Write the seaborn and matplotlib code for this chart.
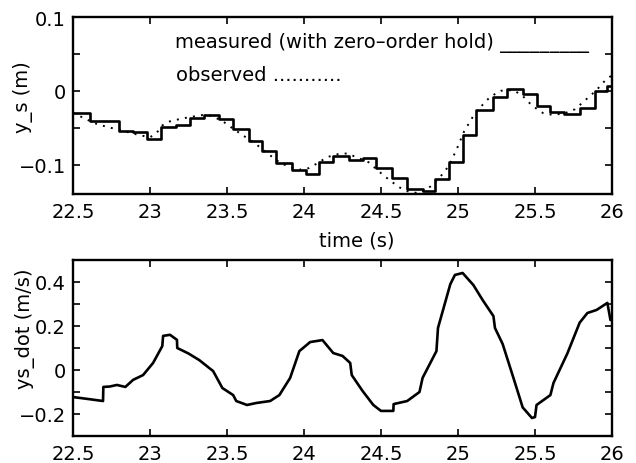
import numpy as np
import pandas as pd
import matplotlib
matplotlib.use("Agg")
import matplotlib.pyplot as plt
from matplotlib.ticker import FixedLocator
import seaborn as sns

# ---- data ----
# measured (zero-order hold): step start times and held values
meas_t = [22.50, 22.61, 22.70, 22.80, 22.89, 22.98, 23.07, 23.17, 23.26, 23.35,
          23.45, 23.54, 23.64, 23.73, 23.82, 23.92, 24.01, 24.10, 24.19, 24.29,
          24.38, 24.47, 24.57, 24.67, 24.77, 24.85, 24.94, 25.03, 25.12, 25.23,
          25.32, 25.42, 25.51, 25.60, 25.69, 25.79, 25.89, 25.97, 26.00]
meas_v = [-0.030, -0.041, -0.041, -0.054, -0.056, -0.066, -0.049, -0.046, -0.037, -0.033,
          -0.038, -0.052, -0.068, -0.082, -0.098, -0.108, -0.113, -0.096, -0.088, -0.094,
          -0.091, -0.105, -0.118, -0.133, -0.136, -0.120, -0.096, -0.060, -0.026, -0.008,
          0.003, -0.005, -0.020, -0.029, -0.032, -0.023, -0.001, 0.006, 0.006]

# observed
obs_t = [22.50, 22.56, 22.64, 22.72, 22.80, 22.87, 22.95, 23.00, 23.04, 23.08,
         23.12, 23.18, 23.25, 23.34, 23.40, 23.47, 23.53, 23.60, 23.68, 23.77,
         23.84, 23.90, 23.97, 24.03, 24.09, 24.15, 24.22, 24.28, 24.34, 24.42,
         24.49, 24.56, 24.62, 24.68, 24.75, 24.82, 24.88, 24.94, 24.99, 25.04,
         25.10, 25.16, 25.21, 25.28, 25.36, 25.42, 25.48, 25.55, 25.62, 25.70,
         25.76, 25.82, 25.90, 25.96, 26.00]
obs_v = [-0.030, -0.036, -0.044, -0.049, -0.053, -0.057, -0.061, -0.063, -0.058, -0.047,
         -0.042, -0.039, -0.036, -0.033, -0.034, -0.041, -0.050, -0.060, -0.071, -0.086,
         -0.097, -0.103, -0.107, -0.105, -0.098, -0.090, -0.086, -0.085, -0.090, -0.097,
         -0.110, -0.122, -0.131, -0.137, -0.139, -0.130, -0.118, -0.102, -0.080, -0.055,
         -0.034, -0.019, -0.008, 0.000, 0.001, -0.007, -0.020, -0.030, -0.033, -0.030,
         -0.025, -0.014, 0.001, 0.015, 0.021]

# ys_dot
vel_t = [22.50, 22.60, 22.695, 22.697, 22.74, 22.785, 22.84, 22.89, 22.955, 23.02,
         23.08, 23.085, 23.13, 23.175, 23.177, 23.25, 23.32, 23.41, 23.47, 23.54,
         23.56, 23.63, 23.69, 23.78, 23.84, 23.91, 23.97, 24.04, 24.12, 24.19,
         24.25, 24.30, 24.31, 24.38, 24.45, 24.50, 24.58, 24.582, 24.67, 24.75,
         24.77, 24.86, 24.87, 24.95, 24.98, 25.03, 25.10, 25.16, 25.23, 25.24,
         25.29, 25.36, 25.42, 25.48, 25.50, 25.51, 25.60, 25.62, 25.71, 25.79,
         25.84, 25.90, 25.97, 25.99]
vel_v = [-0.123, -0.132, -0.141, -0.077, -0.075, -0.068, -0.077, -0.045, -0.023, 0.032,
         0.109, 0.155, 0.160, 0.137, 0.100, 0.075, 0.045, -0.005, -0.082, -0.114,
         -0.141, -0.159, -0.150, -0.141, -0.114, -0.036, 0.086, 0.127, 0.136, 0.077,
         0.064, 0.032, -0.023, -0.095, -0.159, -0.186, -0.186, -0.155, -0.141, -0.100,
         -0.036, 0.086, 0.191, 0.390, 0.432, 0.441, 0.386, 0.318, 0.245, 0.191,
         0.118, -0.036, -0.170, -0.218, -0.214, -0.159, -0.114, -0.059, 0.075, 0.215,
         0.259, 0.273, 0.305, 0.227]

xticks = [22.5, 23, 23.5, 24, 24.5, 25, 25.5, 26]
xtick_labels = ["22.5", "23", "23.5", "24", "24.5", "25", "25.5", "26"]
top_yticks = [-0.1, 0, 0.1]
top_ytick_labels = ["\u22120.1", "0", "0.1"]
bot_yticks = [-0.2, 0, 0.2, 0.4]
bot_ytick_labels = ["\u22120.2", "0", "0.2", "0.4"]

sns.set_style("ticks")
plt.rcParams["font.family"] = ["DejaVu Sans"]
plt.rcParams["text.color"] = "black"
plt.rcParams["axes.labelcolor"] = "black"
plt.rcParams["xtick.color"] = "black"
plt.rcParams["ytick.color"] = "black"
FS = 14

fig = plt.figure(figsize=(6.36, 4.64), dpi=100)
ax1 = fig.add_axes([73/636, 1-195/464, (612-73)/636, (195-18)/464])
ax2 = fig.add_axes([73/636, 1-437/464, (612-73)/636, (437-261)/464])

df_m = pd.DataFrame({"t": meas_t, "v": meas_v})
df_o = pd.DataFrame({"t": obs_t, "v": obs_v})
df_v = pd.DataFrame({"t": vel_t, "v": vel_v})

sns.lineplot(data=df_m, x="t", y="v", ax=ax1, color="black", lw=1.9,
             drawstyle="steps-post", estimator=None, sort=False)
sns.lineplot(data=df_o, x="t", y="v", ax=ax1, color="black", lw=1.4,
             linestyle=(0, (1, 3.2)), estimator=None, sort=False)
sns.lineplot(data=df_v, x="t", y="v", ax=ax2, color="black", lw=1.9,
             estimator=None, sort=False)

for ax in (ax1, ax2):
    ax.set_xlim(22.5, 26)
    ax.set_xticks(xticks)
    ax.set_xticklabels(xtick_labels, fontsize=FS, color="black")
    for s in ax.spines.values():
        s.set_linewidth(1.7)
        s.set_color("black")
    ax.tick_params(which="both", direction="in", top=True, right=True,
                   length=5, width=1.2, colors="black", labelsize=FS,
                   labelcolor="black")
    ax.tick_params(axis="x", pad=6)
    ax.tick_params(axis="y", pad=5)

ax1.set_ylim(-0.14, 0.1)
ax1.set_yticks(top_yticks)
ax1.set_yticklabels(top_ytick_labels, fontsize=FS, color="black")
ax1.yaxis.set_minor_locator(FixedLocator([-0.05, 0.05]))
ax1.set_ylabel("y_s (m)", fontsize=FS, color="black")
ax1.yaxis.set_label_coords(-0.074, 0.554)
ax1.set_xlabel("time (s)", fontsize=FS, color="black")
ax1.xaxis.set_label_coords(0.527, -0.205)
ax1.xaxis.label.set_va("top")

ax1.text(23.16, 0.066, "measured (with zero\u2013order hold) _________",
         fontsize=FS, va="center", ha="left", color="black")
ax1.text(23.17, 0.022, "observed ...........",
         fontsize=FS, va="center", ha="left", color="black")

ax2.set_ylim(-0.3, 0.5)
ax2.set_yticks(bot_yticks)
ax2.set_yticklabels(bot_ytick_labels, fontsize=FS, color="black")
ax2.yaxis.set_minor_locator(FixedLocator([-0.1, 0.1, 0.3]))
ax2.set_ylabel("ys_dot (m/s)", fontsize=FS, color="black")
ax2.yaxis.set_label_coords(-0.070, 0.614)
ax2.set_xlabel("")

fig.savefig("out.png", dpi=100)
